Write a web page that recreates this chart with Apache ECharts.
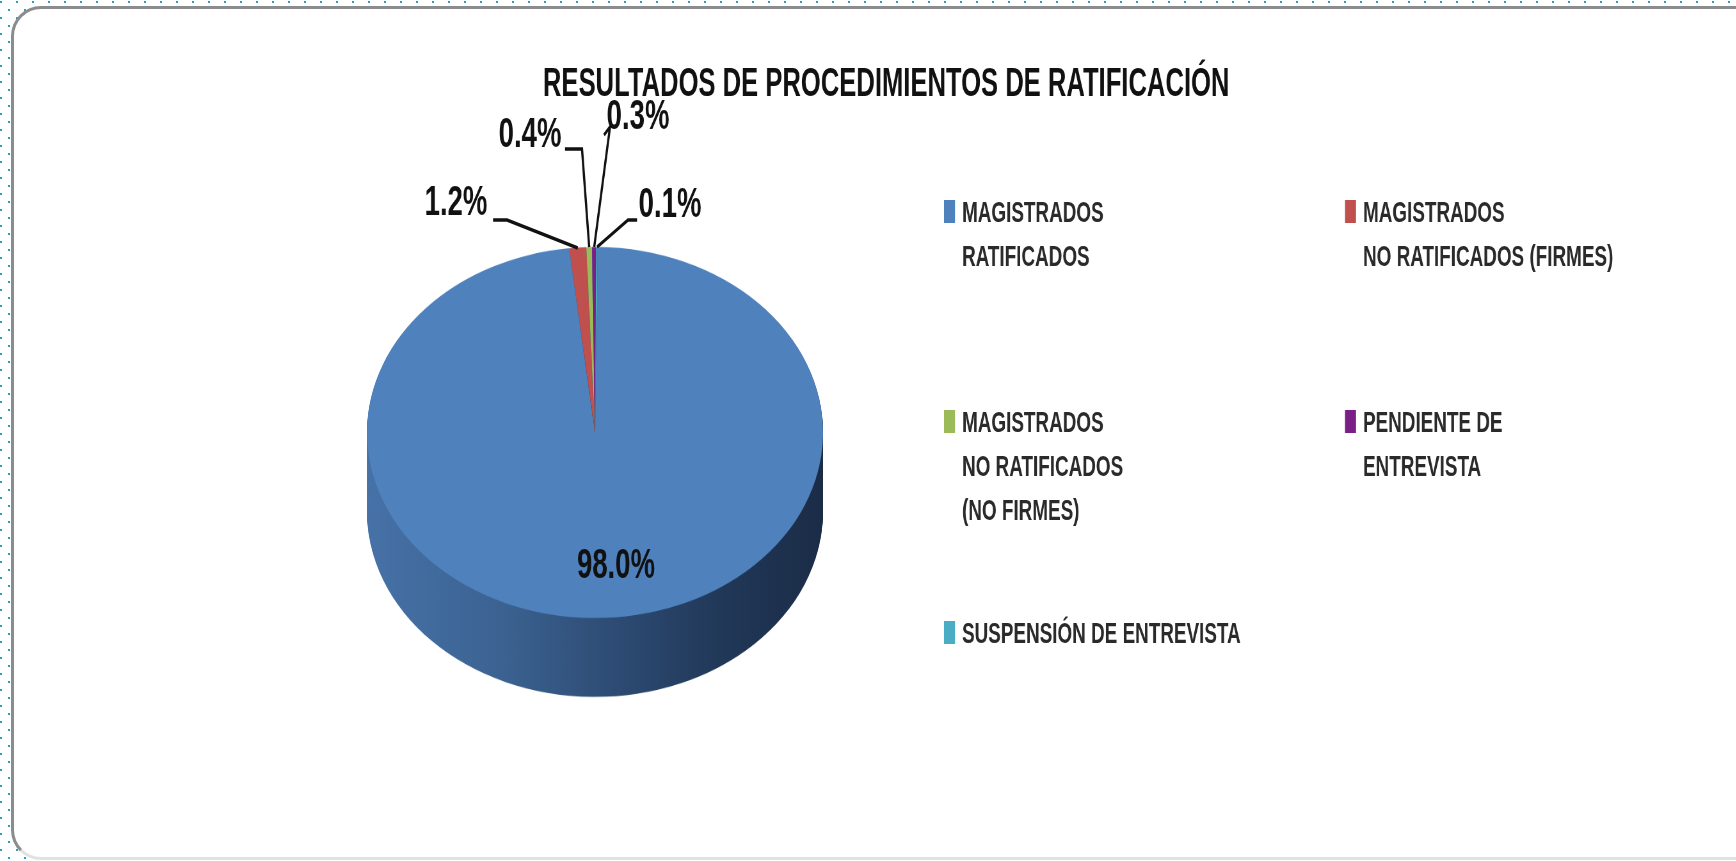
<!DOCTYPE html>
<html>
<head>
	<title>Resultados de procedimientos de ratificación</title>
	<meta charset="utf-8">
	<script src="https://cdn.jsdelivr.net/npm/echarts@6/dist/echarts.min.js"></script>
	<style type="text/css">
		html, body { margin: 0; padding: 0; width: 1736px; height: 861px; overflow: hidden; background: #fff; }
		/* borde punteado de fondo */
		.dots {
			position: absolute; left: 0; top: 0; width: 1736px; height: 861px;
			background-image: radial-gradient(circle, #2aa0c0 1px, transparent 1.4px), radial-gradient(circle, #2aa0c0 1px, transparent 1.4px);
			background-size: 16px 16px, 16px 16px;
			background-position: -7px -6px, 1px 2px;
		}
		.frame {
			position: absolute; left: 11px; top: 6px; width: 1760px; height: 848px;
			border: 3px solid #8c8c8c; border-bottom-color: #e2e2e2;
			border-radius: 30px; background: #fff;
		}
		/* pastel 3D: se aplasta en vertical */
		#e-pie {
			position: absolute; left: 0; top: 0; width: 1736px; height: 1000px;
			transform: scaleY(0.8136); transform-origin: 0 0;
		}
		/* textos: se comprimen en horizontal */
		#e-text {
			position: absolute; left: 0; top: 0; width: 2713px; height: 861px;
			transform: scaleX(0.64); transform-origin: 0 0;
		}
	</style>
</head>
<body>

<div class="dots"></div>
<div class="frame"></div>
<div id="e-pie"></div>
<div id="e-text"></div>

<script type="text/javascript">

	// ===========================================  datos
	var names = [
		'MAGISTRADOS\nRATIFICADOS',
		'MAGISTRADOS\nNO RATIFICADOS (FIRMES)',
		'MAGISTRADOS\nNO RATIFICADOS\n(NO FIRMES)',
		'PENDIENTE DE\nENTREVISTA',
		'SUSPENSIÓN DE ENTREVISTA'
	];
	var values = [98.0, 1.2, 0.4, 0.3, 0.1];
	var colors = ['#4f81bd', '#c0504d', '#9bbb59', '#7a1f86', '#4bacc6'];
	var title = 'RESULTADOS DE PROCEDIMIENTOS DE RATIFICACIÓN';

	var FONT = '"Liberation Sans", Arial, sans-serif';
	var SX = 0.64;            // compresion horizontal de los textos
	var START = 89.3;         // angulo inicial
	var pieData = names.map(function(n, i) {
		return { name: n, value: values[i] };
	});

	// ===========================================  pastel (cara superior + lateral)
	var pieChart = echarts.init(document.getElementById('e-pie'));
	var sideColor = {
		type: 'linear', x: 0, y: 0, x2: 1, y2: 0,
		colorStops: [
			{ offset: 0, color: '#4772a8' },
			{ offset: 0.3, color: '#3b6291' },
			{ offset: 0.55, color: '#2d4b73' },
			{ offset: 0.78, color: '#213858' },
			{ offset: 1, color: '#1b2c47' }
		]
	};
	var topY = 531.6, depth = 97, R = 228, CX = 595;
	var pieSeries = [];
	for (var d = depth; d > 0; d -= 2) {
		pieSeries.push({
			type: 'pie', silent: true, animation: false,
			center: [CX, topY + d], radius: R,
			startAngle: START, clockwise: true,
			label: { show: false }, labelLine: { show: false },
			itemStyle: { color: sideColor },
			data: pieData
		});
	}
	pieSeries.push({
		type: 'pie', silent: true, animation: false,
		center: [CX, topY], radius: R,
		startAngle: START, clockwise: true,
		label: { show: false }, labelLine: { show: false },
		itemStyle: {
			color: function(p) { return colors[p.dataIndex]; }
		},
		data: pieData
	});
	pieChart.setOption({ series: pieSeries });

	// ===========================================  titulo, leyenda y etiquetas
	// posiciones en pixeles de pantalla (se dividen por SX)
	function px(p) { return [p[0] / SX, p[1]]; }
	var labelPos = [[616, 566], [456, 203], [530, 135], [638, 117], [670, 205]];
	var lineBends = [null,
		[[507, 220], [493, 220]],
		[[582, 149], [565, 149]],
		[[610, 127], [604, 135]],
		[[628, 220], [637, 220]]
	];
	var legendLeft = [944, 1345, 944, 1345, 944];
	var legendLineY = [214, 214, 424, 424, 635];
	var LH = 44;
	var ICON_W = 11 / SX, IW = 18 / SX - 5;

	var legends = names.map(function(n, i) {
		var lines = n.split('\n').length;
		var h = LH * lines;
		// icono alineado con la primera linea del texto
		var icon = 'path://M0,0L' + IW + ',0Z M0,8L' + ICON_W + ',8L' + ICON_W + ',31L0,31Z M0,' + h + 'L' + IW + ',' + h + 'Z';
		return {
			data: [{ name: n, itemStyle: { color: colors[i] } }],
			left: legendLeft[i] / SX,
			top: legendLineY[i] - LH / 2,
			orient: 'vertical',
			padding: 0,
			icon: icon,
			itemWidth: IW,
			itemHeight: h,
			selectedMode: false,
			textStyle: {
				fontFamily: FONT, fontSize: 29.5, fontWeight: 'bold', color: '#2a2a2a',
				lineHeight: LH
			}
		};
	});

	var textChart = echarts.init(document.getElementById('e-text'));
	textChart.setOption({
		title: {
			text: title,
			left: 883 / SX,
			top: 60,
			textAlign: 'center',
			textStyle: { fontFamily: FONT, fontSize: 40, fontWeight: 'bold', color: '#111' }
		},
		legend: legends,
		series: [{
			type: 'pie', silent: true, animation: false,
			center: [CX / SX, 247 + R / SX], radius: R / SX,
			startAngle: START, clockwise: true,
			avoidLabelOverlap: false,
			itemStyle: { color: 'rgba(0,0,0,0)' },
			label: {
				show: true, position: 'outside',
				formatter: function(p) { return p.value.toFixed(1) + '%'; },
				fontFamily: FONT, fontSize: 43, fontWeight: 'bold', color: '#111'
			},
			labelLine: { show: true, lineStyle: { color: '#111', width: 3.5 } },
			labelLayout: function(p) {
				var i = p.dataIndex;
				var c = px(labelPos[i]);
				var out = { x: c[0], y: c[1], align: 'center', verticalAlign: 'middle' };
				if (lineBends[i] && p.labelLinePoints) {
					out.labelLinePoints = [p.labelLinePoints[0], px(lineBends[i][0]), px(lineBends[i][1])];
				}
				return out;
			},
			data: pieData.map(function(d, i) {
				return i === 0 ? { name: d.name, value: d.value, labelLine: { show: false } } : d;
			})
		}]
	});

</script>

</body>
</html>
